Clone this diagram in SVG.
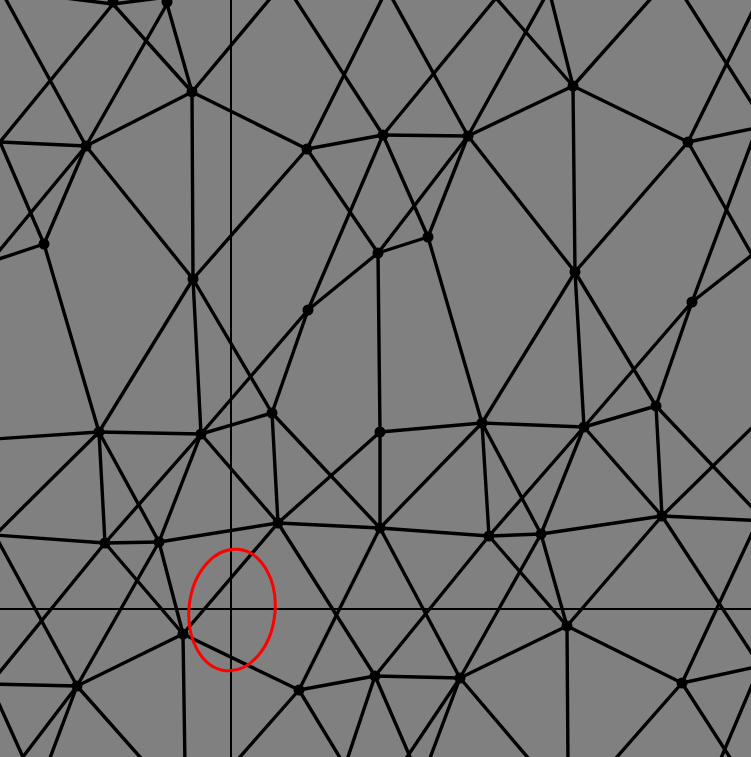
<svg xmlns="http://www.w3.org/2000/svg" width="751" height="757" viewBox="0 0 751 757">
<style>
.e line{stroke:#000;stroke-width:3.4;stroke-linecap:round}
.n circle{fill:#000}
.g{stroke:#000;stroke-width:1.2;shape-rendering:crispEdges}
</style>
<defs><circle id="dot" r="5.5"/></defs>
<rect width="751" height="757" fill="#808080"/>
<g id="connectors" class="e">
<line x1="192" y1="92" x2="86" y2="146"/>
<line x1="192" y1="92" x2="307" y2="149"/>
<line x1="192" y1="92" x2="193" y2="279"/>
<line x1="192" y1="92" x2="113" y2="4"/>
<line x1="192" y1="92" x2="167" y2="4"/>
<line x1="192" y1="92" x2="284" y2="-18"/>
<line x1="86" y1="146" x2="167" y2="4"/>
<line x1="86" y1="146" x2="44" y2="244"/>
<line x1="86" y1="146" x2="193" y2="279"/>
<line x1="86" y1="146" x2="0" y2="142"/>
<line x1="86" y1="146" x2="-10" y2="262"/>
<line x1="86" y1="146" x2="-2" y2="-15"/>
<line x1="113" y1="4" x2="0" y2="142"/>
<line x1="113" y1="4" x2="65" y2="-2"/>
<line x1="113" y1="4" x2="160" y2="-2"/>
<line x1="307" y1="149" x2="383" y2="135"/>
<line x1="307" y1="149" x2="193" y2="279"/>
<line x1="307" y1="149" x2="378" y2="253"/>
<line x1="307" y1="149" x2="387" y2="-11"/>
<line x1="383" y1="135" x2="468" y2="136"/>
<line x1="383" y1="135" x2="308" y2="310"/>
<line x1="383" y1="135" x2="428" y2="237"/>
<line x1="383" y1="135" x2="284" y2="-18"/>
<line x1="383" y1="135" x2="496" y2="-2"/>
<line x1="468" y1="136" x2="573" y2="86"/>
<line x1="468" y1="136" x2="378" y2="253"/>
<line x1="468" y1="136" x2="428" y2="237"/>
<line x1="468" y1="136" x2="575" y2="272"/>
<line x1="468" y1="136" x2="549" y2="-10"/>
<line x1="468" y1="136" x2="387" y2="-11"/>
<line x1="573" y1="86" x2="688" y2="142"/>
<line x1="573" y1="86" x2="575" y2="272"/>
<line x1="573" y1="86" x2="496" y2="-2"/>
<line x1="573" y1="86" x2="549" y2="-10"/>
<line x1="573" y1="86" x2="671" y2="-24"/>
<line x1="671" y1="-24" x2="765" y2="124"/>
<line x1="688" y1="142" x2="575" y2="272"/>
<line x1="688" y1="142" x2="763" y2="-10"/>
<line x1="688" y1="142" x2="765" y2="126"/>
<line x1="688" y1="142" x2="752" y2="255"/>
<line x1="44" y1="244" x2="99" y2="432"/>
<line x1="44" y1="244" x2="0" y2="142"/>
<line x1="44" y1="244" x2="-10" y2="262"/>
<line x1="193" y1="279" x2="99" y2="432"/>
<line x1="193" y1="279" x2="201" y2="434"/>
<line x1="193" y1="279" x2="272" y2="413"/>
<line x1="378" y1="253" x2="428" y2="237"/>
<line x1="378" y1="253" x2="308" y2="310"/>
<line x1="378" y1="253" x2="380" y2="432"/>
<line x1="428" y1="237" x2="482" y2="423"/>
<line x1="575" y1="272" x2="482" y2="423"/>
<line x1="575" y1="272" x2="584" y2="427"/>
<line x1="575" y1="272" x2="656" y2="406"/>
<line x1="692" y1="302" x2="584" y2="427"/>
<line x1="692" y1="302" x2="656" y2="406"/>
<line x1="692" y1="302" x2="758" y2="125"/>
<line x1="692" y1="302" x2="752" y2="255"/>
<line x1="308" y1="310" x2="201" y2="434"/>
<line x1="308" y1="310" x2="272" y2="413"/>
<line x1="272" y1="413" x2="201" y2="434"/>
<line x1="272" y1="413" x2="278" y2="523"/>
<line x1="272" y1="413" x2="380" y2="528"/>
<line x1="99" y1="432" x2="201" y2="434"/>
<line x1="99" y1="432" x2="105" y2="543"/>
<line x1="99" y1="432" x2="159" y2="542"/>
<line x1="99" y1="432" x2="-20" y2="440"/>
<line x1="99" y1="432" x2="-5" y2="535"/>
<line x1="201" y1="434" x2="278" y2="523"/>
<line x1="201" y1="434" x2="105" y2="543"/>
<line x1="201" y1="434" x2="159" y2="542"/>
<line x1="380" y1="432" x2="482" y2="423"/>
<line x1="380" y1="432" x2="380" y2="528"/>
<line x1="380" y1="432" x2="278" y2="523"/>
<line x1="482" y1="423" x2="584" y2="427"/>
<line x1="482" y1="423" x2="380" y2="528"/>
<line x1="482" y1="423" x2="489" y2="536"/>
<line x1="482" y1="423" x2="541" y2="534"/>
<line x1="584" y1="427" x2="656" y2="406"/>
<line x1="584" y1="427" x2="489" y2="536"/>
<line x1="584" y1="427" x2="541" y2="534"/>
<line x1="584" y1="427" x2="662" y2="516"/>
<line x1="656" y1="406" x2="662" y2="516"/>
<line x1="656" y1="406" x2="765" y2="521"/>
<line x1="278" y1="523" x2="159" y2="542"/>
<line x1="278" y1="523" x2="380" y2="528"/>
<line x1="278" y1="523" x2="183" y2="634"/>
<line x1="278" y1="523" x2="375" y2="676"/>
<line x1="105" y1="543" x2="159" y2="542"/>
<line x1="105" y1="543" x2="183" y2="634"/>
<line x1="105" y1="543" x2="-5" y2="535"/>
<line x1="105" y1="543" x2="-10" y2="684"/>
<line x1="159" y1="542" x2="183" y2="634"/>
<line x1="159" y1="542" x2="77" y2="686"/>
<line x1="380" y1="528" x2="489" y2="536"/>
<line x1="380" y1="528" x2="299" y2="690"/>
<line x1="380" y1="528" x2="460" y2="678"/>
<line x1="489" y1="536" x2="541" y2="534"/>
<line x1="489" y1="536" x2="375" y2="676"/>
<line x1="489" y1="536" x2="567" y2="626"/>
<line x1="541" y1="534" x2="662" y2="516"/>
<line x1="541" y1="534" x2="567" y2="626"/>
<line x1="541" y1="534" x2="460" y2="678"/>
<line x1="662" y1="516" x2="567" y2="626"/>
<line x1="662" y1="516" x2="765" y2="521"/>
<line x1="662" y1="516" x2="770" y2="410"/>
<line x1="662" y1="516" x2="760" y2="666"/>
<line x1="183" y1="634" x2="77" y2="686"/>
<line x1="183" y1="634" x2="299" y2="690"/>
<line x1="183" y1="634" x2="185" y2="766"/>
<line x1="567" y1="626" x2="460" y2="678"/>
<line x1="567" y1="626" x2="682" y2="683"/>
<line x1="567" y1="626" x2="568" y2="766"/>
<line x1="77" y1="686" x2="-5" y2="535"/>
<line x1="77" y1="686" x2="-10" y2="684"/>
<line x1="77" y1="686" x2="16" y2="766"/>
<line x1="77" y1="686" x2="47" y2="766"/>
<line x1="77" y1="686" x2="148" y2="766"/>
<line x1="-10" y1="684" x2="27" y2="766"/>
<line x1="299" y1="690" x2="375" y2="676"/>
<line x1="299" y1="690" x2="232" y2="766"/>
<line x1="299" y1="690" x2="345" y2="766"/>
<line x1="375" y1="676" x2="460" y2="678"/>
<line x1="375" y1="676" x2="345" y2="766"/>
<line x1="375" y1="676" x2="414" y2="766"/>
<line x1="460" y1="678" x2="401" y2="766"/>
<line x1="460" y1="678" x2="427" y2="766"/>
<line x1="460" y1="678" x2="535" y2="766"/>
<line x1="682" y1="683" x2="760" y2="516"/>
<line x1="682" y1="683" x2="760" y2="666"/>
<line x1="682" y1="683" x2="609" y2="766"/>
<line x1="682" y1="683" x2="738" y2="770"/>
<line x1="760" y1="666" x2="716" y2="770"/>
</g>
<g id="nodes" class="n">
<g id="nA"><use href="#dot" x="192" y="92"/></g>
<g id="nB"><use href="#dot" x="86" y="146"/></g>
<g id="nC"><use href="#dot" x="307" y="149"/></g>
<g id="nD"><use href="#dot" x="383" y="135"/></g>
<g id="nE"><use href="#dot" x="468" y="136"/></g>
<g id="nF"><use href="#dot" x="573" y="86"/></g>
<g id="nG"><use href="#dot" x="688" y="142"/></g>
<g id="nH"><use href="#dot" x="44" y="244"/></g>
<g id="nI"><use href="#dot" x="193" y="279"/></g>
<g id="nJ"><use href="#dot" x="378" y="253"/></g>
<g id="nK"><use href="#dot" x="428" y="237"/></g>
<g id="nL"><use href="#dot" x="575" y="272"/></g>
<g id="nM"><use href="#dot" x="692" y="302"/></g>
<g id="nN"><use href="#dot" x="308" y="310"/></g>
<g id="nO"><use href="#dot" x="272" y="413"/></g>
<g id="nP"><use href="#dot" x="99" y="432"/></g>
<g id="nQ"><use href="#dot" x="201" y="434"/></g>
<g id="nR"><use href="#dot" x="380" y="432"/></g>
<g id="nS"><use href="#dot" x="482" y="423"/></g>
<g id="nT"><use href="#dot" x="584" y="427"/></g>
<g id="nU"><use href="#dot" x="656" y="406"/></g>
<g id="nV"><use href="#dot" x="278" y="523"/></g>
<g id="nW"><use href="#dot" x="105" y="543"/></g>
<g id="nX"><use href="#dot" x="159" y="542"/></g>
<g id="nY"><use href="#dot" x="380" y="528"/></g>
<g id="nZ"><use href="#dot" x="489" y="536"/></g>
<g id="nAA"><use href="#dot" x="541" y="534"/></g>
<g id="nAB"><use href="#dot" x="662" y="516"/></g>
<g id="nAC"><use href="#dot" x="183" y="634"/></g>
<g id="nAD"><use href="#dot" x="567" y="626"/></g>
<g id="nAE"><use href="#dot" x="77" y="686"/></g>
<g id="nAF"><use href="#dot" x="299" y="690"/></g>
<g id="nAG"><use href="#dot" x="375" y="676"/></g>
<g id="nAH"><use href="#dot" x="460" y="678"/></g>
<g id="nAI"><use href="#dot" x="682" y="683"/></g>
<g id="nT1"><use href="#dot" x="113" y="2"/></g>
<g id="nT2"><use href="#dot" x="167" y="2"/></g>
</g>
<g id="guides">
<line class="g" x1="231" y1="0" x2="231" y2="757"/>
<line class="g" x1="0" y1="609" x2="751" y2="609"/>
</g>
<ellipse id="highlight" cx="232" cy="610" rx="43" ry="61" transform="rotate(6 232 610)" fill="none" stroke="#ff0000" stroke-width="3"/>
</svg>
